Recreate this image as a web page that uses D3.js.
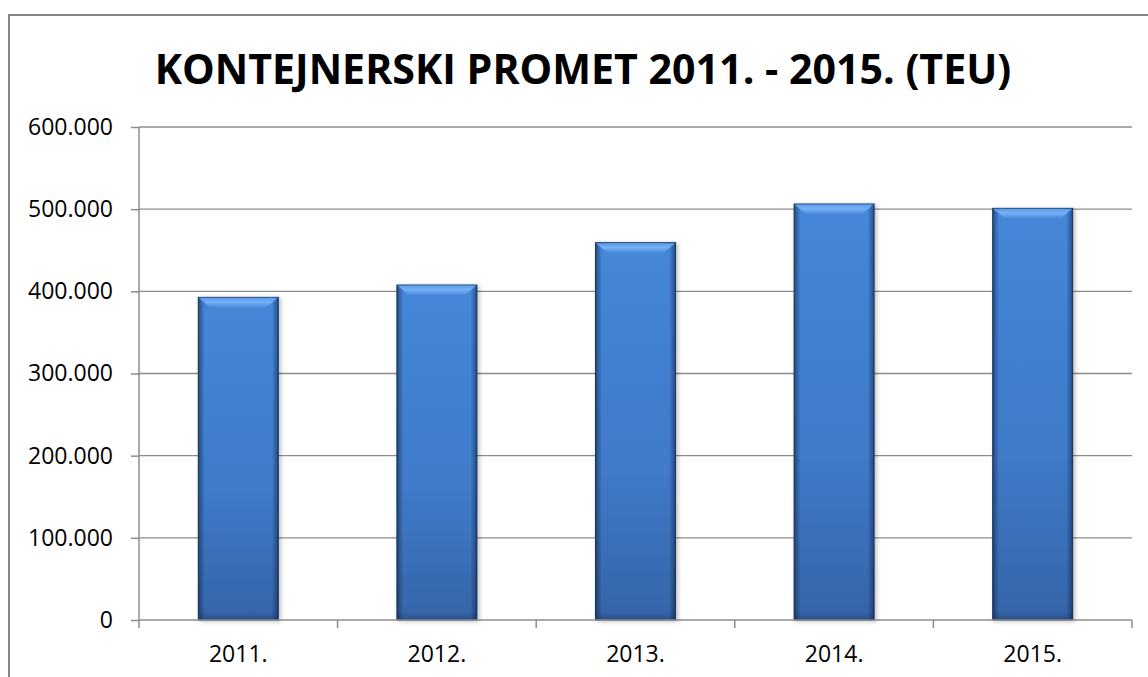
<!DOCTYPE html>
<html>
<head>
<meta charset="UTF-8">
<title>Kontejnerski promet</title>
<script src="https://d3js.org/d3.v7.min.js"></script>
<style>
  body { margin: 0; background: #fff; }
  text { font-family: "Open Sans", sans-serif; fill: #000; }
  .axis text { font-size: 23px; }
  .grid line { stroke: #8c8c8c; stroke-width: 1.3px; }
</style>
</head>
<body>
<svg width="1148" height="677"></svg>
<script>
// data
var years = ["2011.", "2012.", "2013.", "2014.", "2015."];
var teu = [392700, 407700, 459200, 506300, 501000];
var yTicks = [0, 100000, 200000, 300000, 400000, 500000, 600000];
var title = "KONTEJNERSKI PROMET 2011. - 2015. (TEU)";

var svg = d3.select("svg");
var plotL = 139, plotR = 1132, plotT = 127, plotB = 620;

// outer frame
svg.append("rect")
  .attr("x", 9).attr("y", 15).attr("width", 1160).attr("height", 700)
  .attr("fill", "none").attr("stroke", "#868686").attr("stroke-width", 2);

var t = svg.append("text")
  .attr("x", 583).attr("y", 84)
  .attr("text-anchor", "middle")
  .style("font-weight", "bold")
  .style("font-size", "44px")
  .text(title);
var len = t.node().getComputedTextLength();
t.style("font-size", (44 * 857 / len) + "px");

var x = d3.scaleBand().domain(years).range([plotL, plotR]).paddingInner(0.597).paddingOuter(0.2985);
var y = d3.scaleLinear().domain([0, 600000]).range([plotB, plotT]);

var fmt = function (d) { return d === 0 ? "0" : d3.format(",")(d).replace(/,/g, "."); };

// gridlines
svg.append("g").attr("class", "grid")
  .selectAll("line").data(yTicks.filter(function (d) { return d > 0; }))
  .enter().append("line")
  .attr("x1", plotL).attr("x2", plotR)
  .attr("y1", function (d) { return y(d); }).attr("y2", function (d) { return y(d); });

// gradients
var defs = svg.append("defs");
var g1 = defs.append("linearGradient").attr("id", "body").attr("x1", 0).attr("y1", 0).attr("x2", 0).attr("y2", 1);
g1.append("stop").attr("offset", "0%").attr("stop-color", "#4587d9");
g1.append("stop").attr("offset", "60%").attr("stop-color", "#3f7bc9");
g1.append("stop").attr("offset", "100%").attr("stop-color", "#3664a7");
var g2 = defs.append("linearGradient").attr("id", "sides").attr("x1", 0).attr("y1", 0).attr("x2", 1).attr("y2", 0);
g2.append("stop").attr("offset", "0%").attr("stop-color", "#0a1e40").attr("stop-opacity", 0.55);
g2.append("stop").attr("offset", "8%").attr("stop-color", "#0a1e40").attr("stop-opacity", 0.0);
g2.append("stop").attr("offset", "92%").attr("stop-color", "#0a1e40").attr("stop-opacity", 0.0);
g2.append("stop").attr("offset", "100%").attr("stop-color", "#0a1e40").attr("stop-opacity", 0.55);
var g3 = defs.append("linearGradient").attr("id", "bevel").attr("x1", 0).attr("y1", 0).attr("x2", 0).attr("y2", 1);
g3.append("stop").attr("offset", "0%").attr("stop-color", "#5b9be8");
g3.append("stop").attr("offset", "45%").attr("stop-color", "#74b1f7");
g3.append("stop").attr("offset", "100%").attr("stop-color", "#4a8ada");
var g4 = defs.append("linearGradient").attr("id", "foot").attr("x1", 0).attr("y1", 0).attr("x2", 0).attr("y2", 1);
g4.append("stop").attr("offset", "0%").attr("stop-color", "#0a1e40").attr("stop-opacity", 0);
g4.append("stop").attr("offset", "100%").attr("stop-color", "#0a1e40").attr("stop-opacity", 0.3);
defs.append("filter").attr("id", "shadow").attr("x", "-20%").attr("y", "-5%").attr("width", "140%").attr("height", "110%")
  .append("feDropShadow").attr("dx", 2).attr("dy", 1).attr("stdDeviation", 2)
  .attr("flood-color", "#000").attr("flood-opacity", 0.25);

var bw = x.bandwidth(), b = 10;
var bars = svg.append("g").selectAll("g").data(teu).enter().append("g");

bars.append("rect")
  .attr("x", function (d, i) { return x(years[i]); })
  .attr("y", function (d) { return y(d); })
  .attr("width", bw)
  .attr("height", function (d) { return y(0) - y(d); })
  .attr("fill", "url(#body)")
  .attr("stroke", "#1f3d66").attr("stroke-width", 1)
  .attr("filter", "url(#shadow)");
bars.append("rect")
  .attr("x", function (d, i) { return x(years[i]); })
  .attr("y", function (d) { return y(d); })
  .attr("width", bw)
  .attr("height", function (d) { return y(0) - y(d); })
  .attr("fill", "url(#sides)");
bars.append("rect")
  .attr("x", function (d, i) { return x(years[i]) + 1; })
  .attr("y", y(0) - 8)
  .attr("width", bw - 2).attr("height", 8)
  .attr("fill", "url(#foot)");
bars.append("polygon")
  .attr("points", function (d, i) {
    var x0 = x(years[i]), y0 = y(d);
    return [[x0 + 0.5, y0 + 0.5], [x0 + bw - 0.5, y0 + 0.5], [x0 + bw - b - 2, y0 + b], [x0 + b + 2, y0 + b]].join(" ");
  })
  .attr("fill", "url(#bevel)");

// axes
var yAxis = svg.append("g").attr("class", "axis")
  .attr("transform", "translate(" + plotL + ",0)")
  .call(d3.axisLeft(y).tickValues(yTicks).tickFormat(fmt).tickSize(8).tickPadding(18));
var xAxis = svg.append("g").attr("class", "axis")
  .attr("transform", "translate(0," + plotB + ")")
  .call(d3.axisBottom(x).tickSize(0).tickPadding(26));

[yAxis, xAxis].forEach(function (a) {
  a.selectAll("path, line").attr("stroke", "#8c8c8c").attr("stroke-width", 1.5);
});
yAxis.select(".domain").attr("d", "M0," + plotT + "V" + plotB);
xAxis.select(".domain").attr("d", "M" + plotL + ",0H" + plotR);

// category boundary ticks
var step = x.step();
svg.append("g").selectAll("line").data(d3.range(years.length + 1))
  .enter().append("line")
  .attr("x1", function (i) { return plotL + i * step; })
  .attr("x2", function (i) { return plotL + i * step; })
  .attr("y1", plotB).attr("y2", plotB + 8)
  .attr("stroke", "#8c8c8c").attr("stroke-width", 1.5);
</script>
</body>
</html>
